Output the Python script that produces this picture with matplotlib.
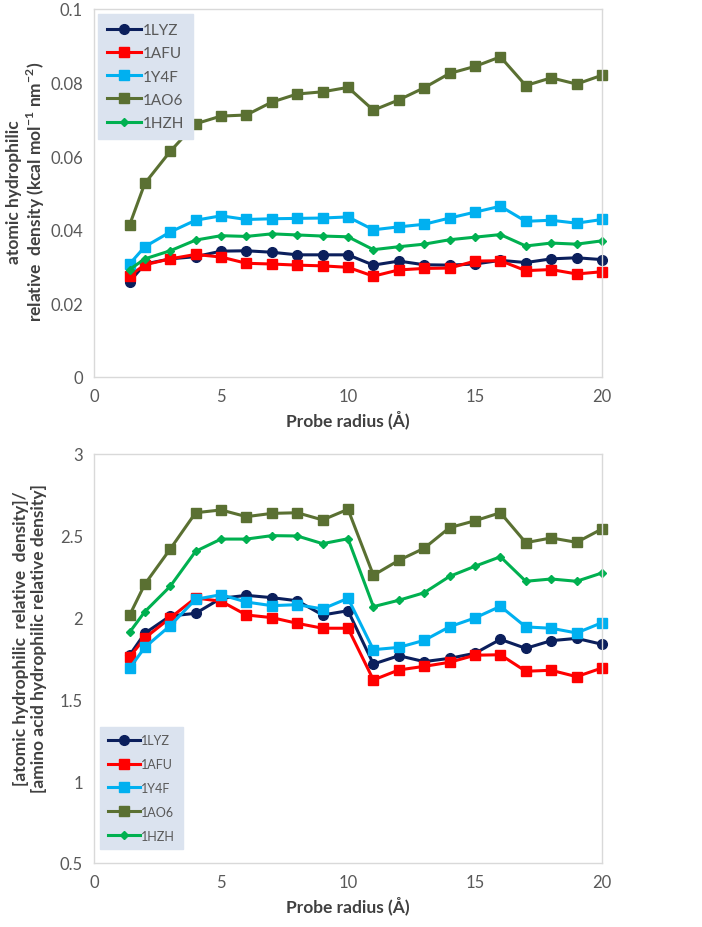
import matplotlib
matplotlib.use("Agg")
from matplotlib import pyplot as plt

# probe radius (Angstrom)
radius = [1.4, 2, 3, 4, 5, 6, 7, 8, 9, 10, 11, 12, 13, 14, 15, 16, 17, 18, 19, 20]
names = ["1LYZ", "1AFU", "1Y4F", "1AO6", "1HZH"]

# top panel: atomic hydrophilic relative density
dens_1lyz = [0.0259, 0.0307, 0.0321, 0.0327, 0.0342, 0.0343, 0.0339, 0.0332, 0.0332, 0.0332,
             0.0304, 0.0315, 0.0305, 0.0304, 0.0307, 0.0317, 0.0311, 0.0321, 0.0324, 0.0319]
dens_1afu = [0.0275, 0.0305, 0.0321, 0.0333, 0.0326, 0.0309, 0.0307, 0.0304, 0.0302, 0.0298,
             0.0274, 0.0291, 0.0295, 0.0296, 0.0315, 0.0316, 0.0289, 0.0292, 0.0280, 0.0286]
dens_1y4f = [0.0307, 0.0354, 0.0394, 0.0426, 0.0438, 0.0428, 0.0430, 0.0431, 0.0432, 0.0435,
             0.0400, 0.0408, 0.0415, 0.0432, 0.0448, 0.0464, 0.0423, 0.0426, 0.0418, 0.0428]
dens_1ao6 = [0.0413, 0.0526, 0.0613, 0.0688, 0.0709, 0.0712, 0.0747, 0.0769, 0.0775, 0.0787,
             0.0725, 0.0753, 0.0786, 0.0825, 0.0844, 0.0870, 0.0792, 0.0813, 0.0796, 0.0820]
dens_1hzh = [0.0292, 0.0321, 0.0343, 0.0372, 0.0384, 0.0382, 0.0389, 0.0386, 0.0383, 0.0381,
             0.0346, 0.0354, 0.0361, 0.0373, 0.0380, 0.0387, 0.0356, 0.0364, 0.0361, 0.0370]

# bottom panel: ratio atomic / amino acid density
ratio_1lyz = [1.770, 1.904, 2.010, 2.026, 2.118, 2.136, 2.122, 2.103, 2.016, 2.042,
              1.716, 1.767, 1.731, 1.751, 1.782, 1.867, 1.812, 1.859, 1.873, 1.837]
ratio_1afu = [1.759, 1.875, 1.998, 2.120, 2.100, 2.016, 2.000, 1.965, 1.935, 1.935,
              1.619, 1.680, 1.702, 1.727, 1.770, 1.773, 1.672, 1.678, 1.639, 1.692]
ratio_1y4f = [1.690, 1.818, 1.951, 2.112, 2.140, 2.095, 2.073, 2.079, 2.053, 2.118,
              1.804, 1.818, 1.861, 1.944, 1.998, 2.069, 1.943, 1.935, 1.906, 1.969]
ratio_1ao6 = [2.014, 2.204, 2.419, 2.641, 2.658, 2.617, 2.637, 2.641, 2.597, 2.662,
              2.259, 2.350, 2.424, 2.550, 2.592, 2.641, 2.458, 2.487, 2.460, 2.542]
ratio_1hzh = [1.910, 2.036, 2.191, 2.405, 2.480, 2.480, 2.501, 2.499, 2.452, 2.482,
              2.067, 2.106, 2.152, 2.252, 2.314, 2.372, 2.222, 2.236, 2.222, 2.273]

colors = ["#0b1f5c", "#ff0000", "#00b0f0", "#5a7032", "#00b050"]
markers = ["o", "s", "s", "s", "D"]
msizes = [7, 7, 7, 7, 4.5]

plt.rcParams['font.family'] = ['Lato', 'DejaVu Sans']
plt.rcParams['mathtext.fontset'] = 'custom'
plt.rcParams['mathtext.rm'] = 'Lato'
plt.rcParams['mathtext.bf'] = 'Lato:bold'
tick_col = "#595959"
label_col = "#404040"
frame_col = "#d9d9d9"
legend_bg = "#dbe3ef"

fig = plt.figure(figsize=(7.02, 9.28), dpi=100)
W, H = 702, 928
ax1 = fig.add_axes([94 / W, 1 - 378 / H, (602 - 94) / W, (378 - 10) / H])
ax2 = fig.add_axes([94 / W, 1 - 864 / H, (602 - 94) / W, (864 - 455) / H])


def style(ax):
    for s in ax.spines.values():
        s.set_color(frame_col)
        s.set_linewidth(1)
    ax.tick_params(length=0, colors=tick_col, labelsize=12, pad=8)
    ax.set_xlim(0, 20)
    ax.set_xticks([0, 5, 10, 15, 20])
    ax.set_xlabel("Probe radius (Å)", fontsize=12.5, fontweight="bold", color=label_col, labelpad=4)


top_series = [dens_1lyz, dens_1afu, dens_1y4f, dens_1ao6, dens_1hzh]
for name, ys, c, m, ms in zip(names, top_series, colors, markers, msizes):
    ax1.plot(radius, ys, color=c, marker=m, markersize=ms, linewidth=2.2, label=name, clip_on=False)
style(ax1)
ax1.set_ylim(0, 0.1)
ax1.set_yticks([0, 0.02, 0.04, 0.06, 0.08, 0.1])
ax1.set_yticklabels(["0", "0.02", "0.04", "0.06", "0.08", "0.1"])
ax1.set_ylabel("atomic hydrophilic\nrelative  density (kcal mol$^{\\mathbf{-1}}$ nm$^{\\mathbf{-2}}$)",
               fontsize=12.5, fontweight="bold", color=label_col, linespacing=1.15)
ax1.yaxis.set_label_coords(-0.092, 0.505)
leg1 = ax1.legend(loc="upper left", bbox_to_anchor=(0.008, 0.986), borderaxespad=0,
                  frameon=True, fancybox=False, facecolor=legend_bg, edgecolor=legend_bg,
                  framealpha=1, fontsize=11, handlelength=2.2, handletextpad=0.1,
                  labelspacing=0.6, borderpad=0.6)
for t in leg1.get_texts():
    t.set_color(tick_col)

bottom_series = [ratio_1lyz, ratio_1afu, ratio_1y4f, ratio_1ao6, ratio_1hzh]
for name, ys, c, m, ms in zip(names, bottom_series, colors, markers, msizes):
    ax2.plot(radius, ys, color=c, marker=m, markersize=ms, linewidth=2.2, label=name, clip_on=False)
style(ax2)
ax2.set_ylim(0.5, 3)
ax2.set_yticks([0.5, 1, 1.5, 2, 2.5, 3])
ax2.set_yticklabels(["0.5", "1", "1.5", "2", "2.5", "3"])
ax2.set_ylabel("[atomic hydrophilic  relative  density]/\n[amino acid hydrophilic relative density]",
               fontsize=12.5, fontweight="bold", color=label_col, linespacing=1.15)
ax2.yaxis.set_label_coords(-0.092, 0.55)
leg2 = ax2.legend(loc="lower left", bbox_to_anchor=(0.012, 0.034), borderaxespad=0,
                  frameon=True, fancybox=False, facecolor=legend_bg, edgecolor=legend_bg,
                  framealpha=1, fontsize=9, handlelength=2.6, handletextpad=0.1,
                  labelspacing=0.95, borderpad=0.6)
for t in leg2.get_texts():
    t.set_color(tick_col)

fig.savefig("out.png", dpi=100)
